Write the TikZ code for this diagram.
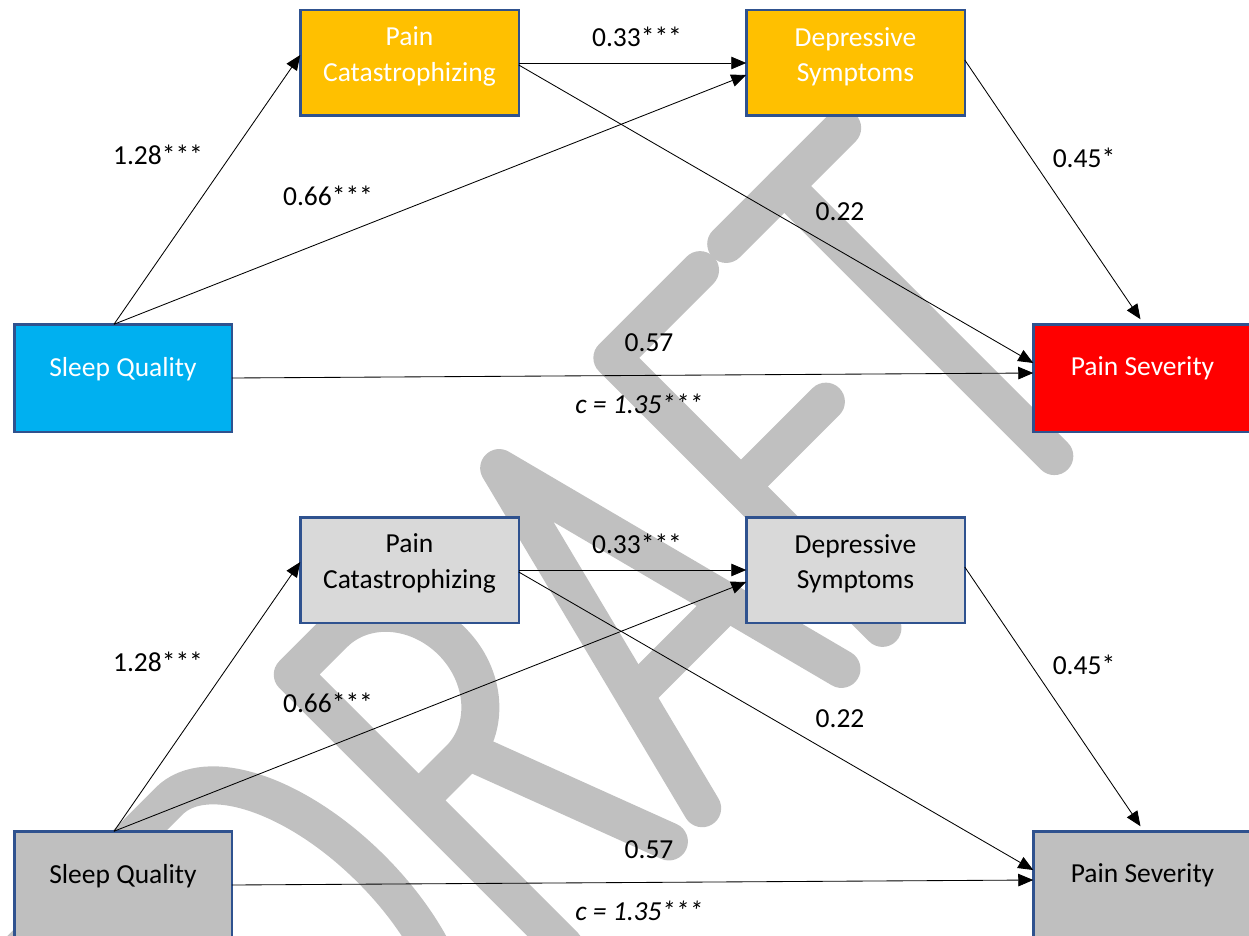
\documentclass[tikz,border=0pt]{standalone}
\usepackage{fontspec}
\setmainfont{Carlito}
\usetikzlibrary{arrows.meta}
\definecolor{boxline}{RGB}{47,82,143}
\definecolor{catorange}{RGB}{255,192,0}
\definecolor{sleepblue}{RGB}{0,176,240}
\definecolor{sevred}{RGB}{255,0,0}
\definecolor{lightgrey}{RGB}{217,217,217}
\definecolor{midgrey}{RGB}{191,191,191}
\definecolor{draftgrey}{RGB}{192,192,192}

\begin{document}
\begin{tikzpicture}[x=1pt,y=-1pt,
  box/.style={draw=boxline, line width=2.5pt, minimum width=218.5pt, minimum height=105.5pt, inner sep=0pt, outer sep=0pt},
  txt/.style={font=\fontsize{27.5}{35.4}\selectfont, align=center, inner sep=0pt},
  link/.style={line width=0.85pt, -{Triangle[length=15pt,width=12.5pt]}},
  draft/.style={draw=draftgrey, line width=38pt, line cap=round, line join=round}]
\useasboundingbox (0,0) rectangle (1249,936);

\begin{scope}[x={(0.7071pt,0.7071pt)}, y={(-0.7071pt,0.7071pt)}, shift={(0,-1068)}]
\draw[draft] (-660,0) -- (-660,382) -- (-447,382) arc[start angle=90, end angle=-90, x radius=95, y radius=191] -- cycle;
\draw[draft] (-270,0) -- (-270,384) -- (-212,384) arc[start angle=90, end angle=-90, x radius=78, y radius=89] -- (-270,206);
\draw[draft] (-200,206) -- (-122,0);
\draw[draft] (-75,0) -- (22,384) -- (122,0);
\draw[draft] (-42,128) -- (88,128);
\draw[draft] (304,382) -- (180,382) -- (180,0);
\draw[draft] (180,200) -- (300,200);
\draw[draft] (341,382) -- (505,382);
\draw[draft] (423,382) -- (423,0);
\end{scope}

\node[box, fill=catorange] (pc) at (409.5,63) {};
\node[txt, text=white] (pct) at ([yshift=6.5pt]pc.center) {Pain\\Catastrophizing};
\node[box, fill=catorange] (ds) at (855.5,63) {};
\node[txt, text=white] (dst) at ([yshift=6.5pt]ds.center) {Depressive\\Symptoms};
\node[box, fill=sleepblue, minimum width=217.5pt, minimum height=107.5pt] (sq) at (123,378) {};
\node[txt, text=white] (sqt) at ([yshift=9.3pt]sq.center) {Sleep Quality};
\node[box, fill=sevred, minimum height=107.5pt] (ps) at (1142.5,378) {};
\node[txt, text=white] (pst) at ([yshift=9.3pt]ps.center) {Pain Severity};

\draw[link] ([xshift=-9pt]sq.north) -- ([yshift=8pt]pc.west);
\draw[link] ([xshift=-9pt]sq.north) -- ([yshift=-12pt]ds.west);
\draw[link] (pc.east) -- (ds.west);
\draw[link] ([yshift=-2pt]pc.east) -- ([yshift=15pt]ps.west);
\draw[link] (sq.east) -- ([yshift=5pt]ps.west);
\draw[link] ([yshift=3pt]ds.east) -- ([xshift=-2pt,yshift=5pt]ps.north);

\node[txt] (a1) at (158,155) {1.28***};
\node[txt] (a2) at (328,196) {0.66***};
\node[txt] (a3) at (637,37) {0.33***};
\node[txt] (a4) at (840,212) {0.22};
\node[txt] (a5) at (1084,158) {0.45*};
\node[txt] (a6) at (649,343) {0.57};
\node[txt] (a7) at (639,404) {\itshape c = 1.35***};

\node[box, fill=lightgrey] (pcb) at (409.5,570) {};
\node[txt] (pcbt) at ([yshift=6.5pt]pcb.center) {Pain\\Catastrophizing};
\node[box, fill=lightgrey] (dsb) at (855.5,570) {};
\node[txt] (dsbt) at ([yshift=6.5pt]dsb.center) {Depressive\\Symptoms};
\node[box, fill=midgrey, minimum width=217.5pt, minimum height=107.5pt] (sqb) at (123,885) {};
\node[txt] (sqbt) at ([yshift=9.3pt]sqb.center) {Sleep Quality};
\node[box, fill=midgrey, minimum height=107.5pt] (psb) at (1142.5,885) {};
\node[txt] (psbt) at ([yshift=9.3pt]psb.center) {Pain Severity};

\draw[link] ([xshift=-9pt]sqb.north) -- ([yshift=8pt]pcb.west);
\draw[link] ([xshift=-9pt]sqb.north) -- ([yshift=-12pt]dsb.west);
\draw[link] (pcb.east) -- (dsb.west);
\draw[link] ([yshift=-2pt]pcb.east) -- ([yshift=15pt]psb.west);
\draw[link] (sqb.east) -- ([yshift=5pt]psb.west);
\draw[link] ([yshift=3pt]dsb.east) -- ([xshift=-2pt,yshift=5pt]psb.north);

\node[txt] (b1) at (158,662) {1.28***};
\node[txt] (b2) at (328,703) {0.66***};
\node[txt] (b3) at (637,544) {0.33***};
\node[txt] (b4) at (840,719) {0.22};
\node[txt] (b5) at (1084,665) {0.45*};
\node[txt] (b6) at (649,850) {0.57};
\node[txt] (b7) at (639,911) {\itshape c = 1.35***};
\end{tikzpicture}
\end{document}
